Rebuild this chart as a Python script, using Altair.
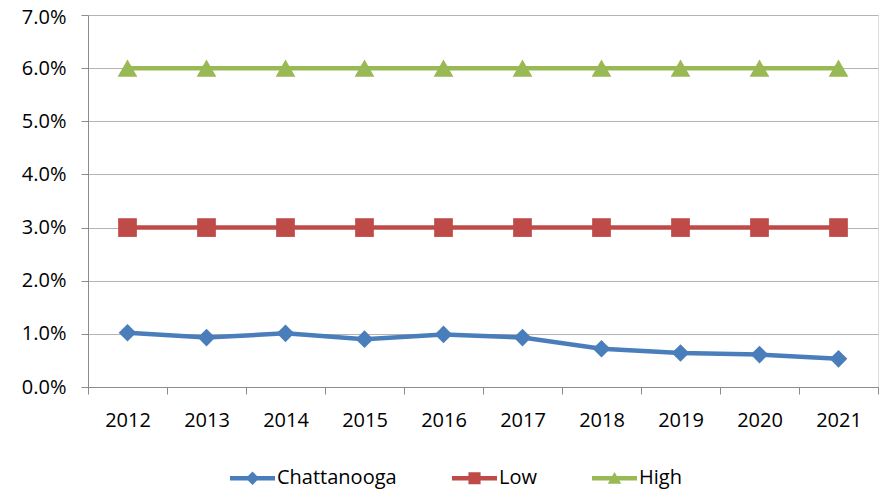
import altair as alt
import pandas as pd

years = ["2012", "2013", "2014", "2015", "2016", "2017", "2018", "2019", "2020", "2021"]
series_names = ["Chattanooga", "Low", "High"]
chattanooga = [0.0102, 0.0093, 0.0101, 0.0090, 0.0099, 0.0093, 0.0072, 0.0064, 0.0061, 0.0053]
low = [0.03, 0.03, 0.03, 0.03, 0.03, 0.03, 0.03, 0.03, 0.03, 0.03]
high = [0.06, 0.06, 0.06, 0.06, 0.06, 0.06, 0.06, 0.06, 0.06, 0.06]
y_ticks = [0.0, 0.01, 0.02, 0.03, 0.04, 0.05, 0.06, 0.07]

colors = ["#4A7EBB", "#BE4B48", "#98B954"]
marker_shapes = ["diamond", "square", "triangle-up"]
marker_sizes = [310, 350, 390]

# legend symbols: a short line with the marker on it (unit coords)
_line = "M-1,-0.1H1V0.1H-1Z"
legend_paths = [
    _line + " M0,-0.3L0.3,0L0,0.3L-0.3,0Z",
    _line + " M-0.27,-0.27H0.27V0.27H-0.27Z",
    _line + " M0,-0.28L0.3,0.24L-0.3,0.24Z",
]

rows = []
for name, vals in zip(series_names, [chattanooga, low, high]):
    for yr, v in zip(years, vals):
        rows.append({"year": yr, "series": name, "value": v})
df = pd.DataFrame(rows)

FONT = "Open Sans"
FS = 20

x_enc = alt.X(
    "year:O",
    scale=alt.Scale(type="band", domain=years, paddingInner=0, paddingOuter=0),
    axis=alt.Axis(
        title=None, labelAngle=0, grid=False, tickBand="extent", tickSize=7,
        labelPadding=16, labelFont=FONT, labelFontSize=FS, labelColor="#000000",
        domainColor="#8C8C8C", tickColor="#8C8C8C",
    ),
)
y_enc = alt.Y(
    "value:Q",
    scale=alt.Scale(domain=[0, 0.07], nice=False, zero=True),
    axis=alt.Axis(
        title=None, values=y_ticks, format=".1%", tickSize=7, labelPadding=15,
        labelFont=FONT, labelFontSize=FS, labelColor="#000000",
        labelOffset={"condition": {"test": "datum.value >= 0.069", "value": 2}, "value": 0},
        domainColor="#8C8C8C", tickColor="#8C8C8C", gridColor="#B4B4B4",
        gridWidth=1,
    ),
)

legend = alt.Legend(
    orient="none", legendX=142, legendY=440.5, direction="horizontal",
    columns=3, title=None, symbolSize=2025, symbolStrokeWidth=0,
    symbolOpacity=1, labelFont=FONT, labelFontSize=FS, labelColor="#000000",
    labelOffset=2, columnPadding=55, padding=0,
)

base = alt.Chart(df)

legend_layer = base.transform_filter("false").mark_point(filled=True, opacity=1).encode(
    x=x_enc,
    y=y_enc,
    color=alt.Color("series:N", scale=alt.Scale(domain=series_names, range=colors), legend=legend),
    shape=alt.Shape("series:N", scale=alt.Scale(domain=series_names, range=legend_paths), legend=legend),
)

layers = [legend_layer]
for name, col, shp, sz in zip(series_names, colors, marker_shapes, marker_sizes):
    sub = base.transform_filter(alt.datum.series == name)
    layers.append(sub.mark_line(color=col, strokeWidth=4.5).encode(x=x_enc, y=y_enc))
    layers.append(
        sub.mark_point(shape=shp, filled=True, color=col, size=sz, opacity=1).encode(x=x_enc, y=y_enc)
    )

chart = alt.layer(*layers).properties(
    width=790,
    height=372,
    autosize=alt.AutoSizeParams(type="none"),
    padding={"left": 80, "top": 7, "right": 5, "bottom": 105},
).configure_view(stroke=None).configure(background="white")

chart.save("out.html", embed_options={"renderer": "svg", "actions": False})
